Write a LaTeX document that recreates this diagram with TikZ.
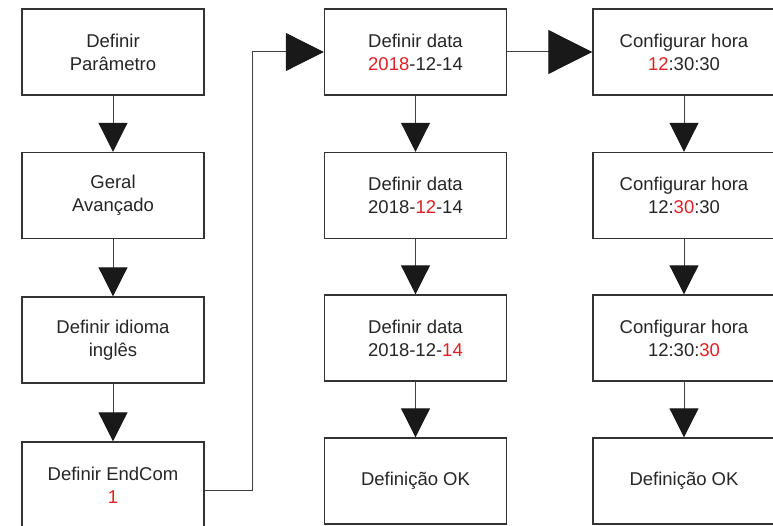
\documentclass[tikz,border=0pt]{standalone}
\usepackage{fontspec}
\setmainfont{Liberation Sans}
\usepackage{xcolor}
\usetikzlibrary{arrows.meta, positioning}
\definecolor{hlred}{RGB}{222,34,40}
\newcommand{\hl}[1]{\textcolor{hlred}{#1}}

\begin{document}
\begin{tikzpicture}[x=1pt, y=1pt,
  box/.style={
    rectangle, draw=black!80, line width=1.4pt, fill=white,
    minimum width=182pt, minimum height=86pt, inner sep=0pt,
    align=center, text=black!85, font=\fontsize{18.5}{23}\selectfont
  },
  arrow/.style={-{Triangle[length=29pt, width=29pt, color=black!90]}, line width=1pt, black!75},
  bigarrow/.style={-{Triangle[length=#1pt, width=#1pt, color=black!90]}, line width=1pt, black!75}
]
\useasboundingbox (0,0) rectangle (773,525);
\clip (0,0) rectangle (773,525);

% Left column: parameter menu
\node[box] (param)  at (113, 473)   {Definir\\Parâmetro};
\node[box] (geral)  at (113, 329.5) {Geral\\Avançado};
\node[box] (idioma) at (113, 185)   {Definir idioma\\inglês};
\node[box] (endcom) at (113, 40)    {Definir EndCom\\\hl{1}};

% Middle column: date
\node[box] (data1)  at (415.5, 473)   {Definir data\\\hl{2018}-12-14};
\node[box] (data2)  at (415.5, 329.5) {Definir data\\2018-\hl{12}-14};
\node[box] (data3)  at (415.5, 187)   {Definir data\\2018-12-\hl{14}};
\node[box] (dataok) at (415.5, 44)    {Definição OK};

% Right column: time
\node[box] (hora1)  at (684, 473)   {Configurar hora\\\hl{12}:30:30};
\node[box] (hora2)  at (684, 329.5) {Configurar hora\\12:\hl{30}:30};
\node[box] (hora3)  at (684, 187)   {Configurar hora\\12:30:\hl{30}};
\node[box] (horaok) at (684, 44)    {Definição OK};

% Arrows
\draw[arrow] (param)  -- (geral);
\draw[arrow] (geral)  -- (idioma);
\draw[arrow] (idioma) -- (endcom);
\draw[arrow] (data1)  -- (data2);
\draw[arrow] (data2)  -- (data3);
\draw[arrow] (data3)  -- (dataok);
\draw[arrow] (hora1)  -- (hora2);
\draw[arrow] (hora2)  -- (hora3);
\draw[arrow] (hora3)  -- (horaok);

% Links between columns
\draw[bigarrow=38] ([yshift=-5pt]endcom.east) -- ++(48,0) |- (data1.west);
\draw[bigarrow=44] (data1.east) -- (hora1.west);

\end{tikzpicture}
\end{document}
